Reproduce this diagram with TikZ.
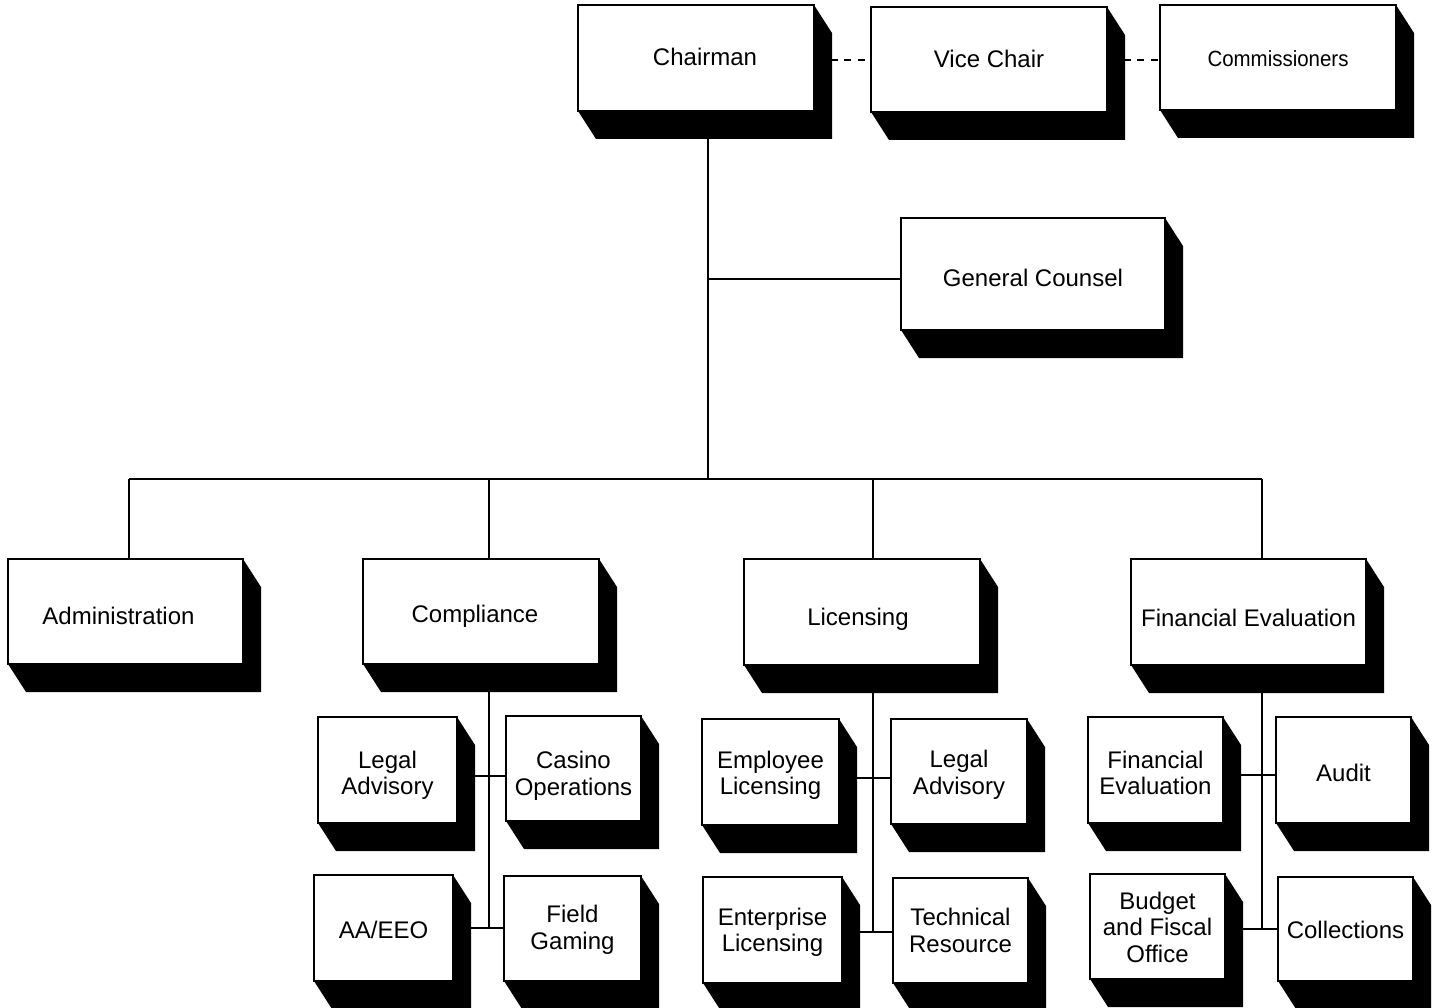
\documentclass[tikz,border=0pt]{standalone}
\usepackage{fontspec}
\setmainfont{Liberation Sans}
\usetikzlibrary{calc}
\newcommand\sdx{18}
\newcommand\sdy{28}
% \orgbox[text shift down]{name}{x1}{y1}{x2}{y2}{text}
\newcommand\orgbox[7][0]{%
  \node[obox, minimum width={(#5-#3)*1pt}, minimum height={(#6-#4)*1pt}] (#2) at ({(#3+#5)/2},{(#4+#6)/2})
    {\raisebox{-#1pt}[\height][\depth]{\begin{tabular}{@{}c@{}}#7\end{tabular}}};
  \fill[black] (#2.north east) -- ++(\sdx,\sdy) -- ($(#2.south east)+(\sdx,\sdy)$) -- ($(#2.south west)+(\sdx,\sdy)$) -- (#2.south west) -- (#2.south east) -- cycle;
}
\tikzset{
  obox/.style={draw=black, line width=1.4pt, fill=white, inner sep=0pt, outer sep=0pt,
    font=\fontsize{24}{26.5}\selectfont},
  conn/.style={draw=black, line width=2.6pt},
  dashline/.style={draw=black, line width=2.4pt, dash pattern=on 6.7pt off 6.7pt}
}
\begin{document}
\begin{tikzpicture}[x=1pt,y=-1pt]
\useasboundingbox[fill=white] (0,0) rectangle (1437,1008);
% junction coordinates
\coordinate (bus) at (708,479);
\coordinate (gcj) at (708,279);
\coordinate (b1) at (129,479);
\coordinate (b2) at (489,479);
\coordinate (b3) at (873,479);
\coordinate (b4) at (1262,479);
\coordinate (c1j) at (489,776);
\coordinate (c2j) at (489,928);
\coordinate (l1j) at (873,778);
\coordinate (l2j) at (873,932);
\coordinate (f1j) at (1262,775);
\coordinate (f2j) at (1262,929);
\coordinate (d1) at (831,60);
\coordinate (d2) at (1124,60);
% connectors (drawn first, boxes on top)
\draw[conn] (b1) -- (b4);
\draw[conn] (708,111) -- (bus);
\draw[conn] (gcj) -- (901,279);
\draw[conn] (b1) -- (129,559);
\draw[conn] (b2) -- (489,559);
\draw[conn] (b3) -- (873,559);
\draw[conn] (b4) -- (1262,559);
\draw[conn] (489,664) -- (c2j);
\draw[conn] (873,665) -- (l2j);
\draw[conn] (1262,665) -- (f2j);
\draw[conn] (457,776) -- (506,776);
\draw[conn] (453,928) -- (504,928);
\draw[conn] (839,778) -- (891,778);
\draw[conn] (842,932) -- (893,932);
\draw[conn] (1223,775) -- (1276,775);
\draw[conn] (1225,929) -- (1278,929);
% boxes
\orgbox[2]{chair}{578}{5}{814}{111}{\hspace*{18pt}Chairman}
\orgbox[3]{vice}{871}{7}{1107}{112}{Vice Chair}
\orgbox[4]{comm}{1160}{5}{1396}{110}{\fontsize{22}{24}\selectfont\scalebox{0.93}[1]{Commissioners}}
\orgbox[7]{gc}{901}{218}{1165}{330}{General Counsel}
\orgbox[8]{admin}{8}{559}{243}{664}{Administration\hspace*{14pt}}
\orgbox[6]{compl}{363}{559}{599}{664}{Compliance\hspace*{12pt}}
\orgbox[8]{lic}{744}{559}{980}{665}{Licensing\hspace*{8pt}}
\orgbox[9]{fin}{1131}{559}{1366}{665}{Financial Evaluation}
\orgbox[6]{cLegal}{318}{717}{457}{823}{Legal\\Advisory}
\orgbox[8]{cCasino}{506}{716}{641}{821}{Casino\\Operations}
\orgbox[5]{cAA}{314}{875}{453}{981}{AA/EEO}
\orgbox[2]{cField}{504}{876}{641}{981}{Field\\Gaming}
\orgbox[4]{lEmp}{702}{719}{839}{825}{Employee\\Licensing}
\orgbox[4]{lLegal}{891}{719}{1027}{824}{Legal\\Advisory}
\orgbox[3]{lEnt}{703}{877}{842}{983}{Enterprise\\Licensing}
\orgbox[3]{lTech}{893}{878}{1028}{983}{Technical\\Resource}
\orgbox[6]{fFin}{1088}{717}{1223}{823}{Financial\\Evaluation}
\orgbox[6]{fAudit}{1276}{717}{1411}{823}{Audit}
\orgbox[4]{fBud}{1090}{874}{1225}{979}{Budget\\and Fiscal\\Office}
\orgbox[4]{fColl}{1278}{877}{1413}{981}{Collections}
% dashed links
\draw[dashline] (d1) -- (vice.west |- d1);
\draw[dashline] (d2) -- (comm.west |- d2);
\end{tikzpicture}
\end{document}
